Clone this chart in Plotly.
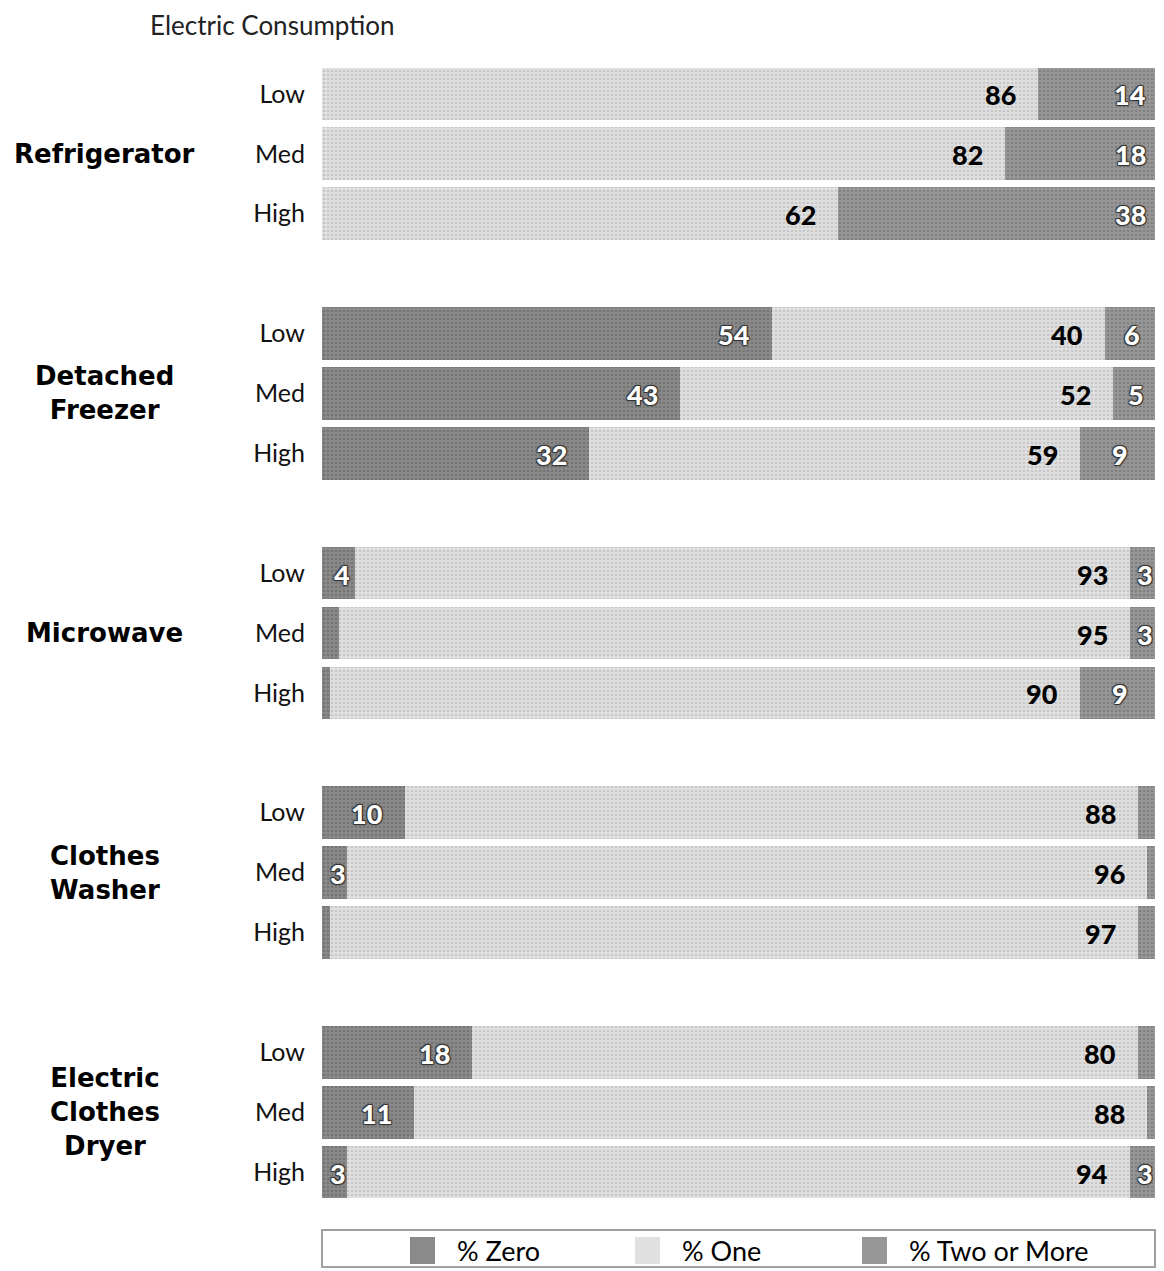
import plotly.graph_objects as go

groups = ["Refrigerator", "Detached<br>Freezer", "Microwave", "Clothes<br>Washer", "Electric<br>Clothes<br>Dryer"]
levels = ["Low", "Med", "High"]

pct_zero = [0, 0, 0,   54, 43, 32,   4, 2, 1,   10, 3, 1,   18, 11, 3]
pct_one  = [86, 82, 62, 40, 52, 59,  93, 95, 90, 88, 96, 97, 80, 88, 94]
pct_two  = [14, 18, 38, 6, 5, 9,     3, 3, 9,   2, 1, 2,    2, 1, 3]

series_names = ["% Zero", "% One", "% Two or More"]
series_vals = [pct_zero, pct_one, pct_two]
series_bg = ["#8a8a8a", "#e0e0e0", "#979797"]
series_fg = ["#5e5e5e", "#ababab", "#6a6a6a"]
series_txt = ["white", "black", "white"]

ypos = [4 * g + r for g in range(len(groups)) for r in range(len(levels))]
yticktext = [lv for g in groups for lv in levels]

FONT = "Lato"
NUMFONT = "Lato"
W, H = 1148, 1263
L, T = 314, 53
PW = 833
PLOT_BOTTOM = 1197
PH = PLOT_BOTTOM - T
PX_PER_PCT = PW / 100


def px(page_x):
    return (page_x - 8 - L) / PW


def py(page_y):
    return (PLOT_BOTTOM - (page_y - 8)) / PH


fig = go.Figure()
for name, vals, bg, fg in zip(series_names, series_vals, series_bg, series_fg):
    fig.add_trace(go.Bar(
        name=name, x=vals, y=ypos, orientation="h", width=0.88,
        marker=dict(color=bg, line=dict(width=0),
                    pattern=dict(shape=".", fgcolor=fg, bgcolor=bg, size=4, solidity=0.35)),
        hoverinfo="skip", showlegend=False,
    ))

for i, y in enumerate(ypos):
    start = 0
    for k, vals in enumerate(series_vals):
        v = vals[i]
        end = start + v
        if v >= 3:
            w_px = v * PX_PER_PCT
            if k == 1:
                xa, anchor, shift = end, "right", -20
            elif k == 0:
                if w_px > 70:
                    xa, anchor, shift = end, "right", -20
                else:
                    xa, anchor, shift = (start + end) / 2, "center", 3
            else:
                if v >= 10:
                    xa, anchor, shift = end, "right", -7
                else:
                    xa, anchor, shift = (start + end) / 2, "center", 2
            col = series_txt[k]
            fig.add_annotation(
                x=xa, y=y, xref="x", yref="y", text=str(v), showarrow=False,
                xanchor=anchor, yanchor="middle", xshift=shift, yshift=-1,
                font=dict(family=NUMFONT, size=27, color=col, weight=900,
                          shadow=("1px 1px 1px #333, -1px -1px 1px #333, 1px -1px 1px #333, -1px 1px 1px #333"
                                  if col == "white" else "none")),
            )
        start = end

for g, name in enumerate(groups):
    fig.add_annotation(
        x=px(105), xref="paper", y=4 * g + 1, yref="y", text=name, showarrow=False,
        xanchor="center", yanchor="middle", align="center",
        font=dict(family="DejaVu Sans", size=26, color="black", weight="bold"),
    )

fig.add_annotation(
    x=px(148), xref="paper", y=py(25), yref="paper", text="Electric Consumption",
    showarrow=False, xanchor="left", yanchor="middle",
    font=dict(family=FONT, size=26, color="#222"),
)

# legend box (drawn by hand to match the framed legend strip)
fig.add_shape(type="rect", xref="paper", yref="paper", x0=0, x1=1, y0=py(1230), y1=py(1267),
              line=dict(color="#a0a0a0", width=2), fillcolor="white", layer="below")
leg_sw_x = [410, 635, 862]
for name, bg, sx in zip(series_names, series_bg, leg_sw_x):
    fig.add_shape(type="rect", xref="paper", yref="paper", x0=px(sx), x1=px(sx + 25),
                  y0=py(1237), y1=py(1264), line=dict(width=0), fillcolor=bg)
    fig.add_annotation(x=px(sx + 45), xref="paper", y=py(1250), yref="paper",
                       text=name, showarrow=False, xanchor="left", yanchor="middle",
                       font=dict(family=FONT, size=27, color="black"))

fig.update_layout(
    width=W, height=H,
    margin=dict(l=L, r=W - L - PW, t=T, b=H - PLOT_BOTTOM),
    barmode="stack", bargap=0,
    plot_bgcolor="white", paper_bgcolor="white",
    showlegend=False,
    xaxis=dict(range=[0, 100], visible=False, fixedrange=True),
    yaxis=dict(range=[18.55, -0.55], tickvals=ypos, ticktext=yticktext, showgrid=False,
               zeroline=False, showline=False, ticks="", ticklabelstandoff=16,
               tickfont=dict(family=FONT, size=25, color="#111")),
)

fig.write_html("out.html")
